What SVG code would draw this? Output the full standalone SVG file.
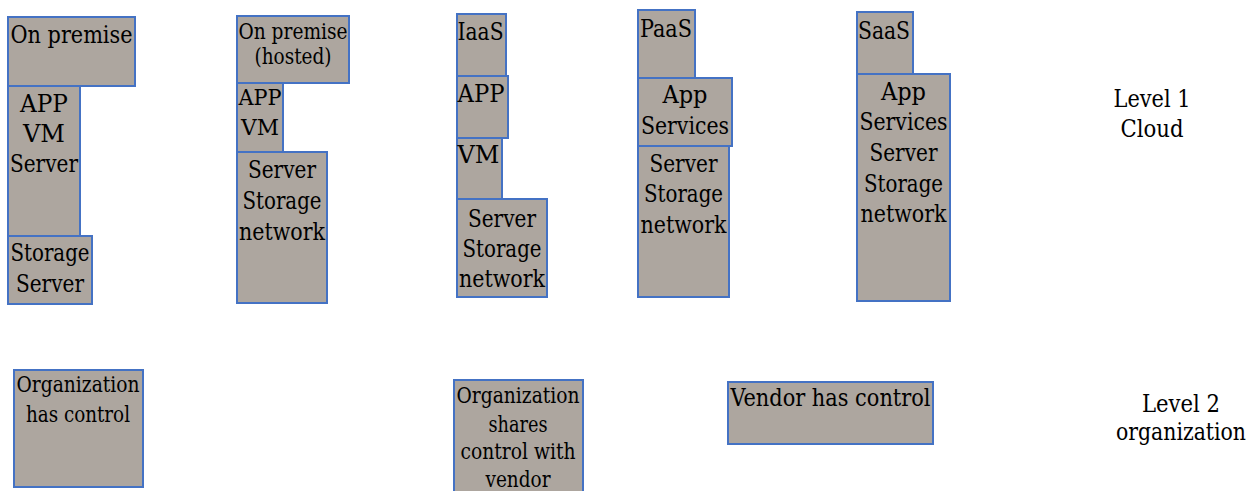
<svg xmlns="http://www.w3.org/2000/svg" width="1260" height="491" viewBox="0 0 1260 491">
  <style>
    .box { fill: #ada69f; stroke: #4472c4; stroke-width: 2; }
    text { fill: #000; font-size: 24px; font-family: "DejaVu Serif Condensed", "DejaVu Serif", serif; font-stretch: condensed; }
    .c { text-anchor: middle; }
    .s { font-size: 21.5px; }
    .lbl { font-size: 23.5px; text-anchor: middle; }
  </style>
  <rect width="1260" height="491" fill="#fff"/>

  <!-- On premise stack -->
  <g id="onprem-title">
    <rect class="box" x="8" y="17" width="127" height="69"/>
    <text class="c" x="71.5" y="43" textLength="122" lengthAdjust="spacingAndGlyphs">On premise</text>
  </g>
  <g id="onprem-app">
    <rect class="box" x="8" y="86" width="72" height="150"/>
    <text class="c" x="44" y="112" textLength="48" lengthAdjust="spacingAndGlyphs">APP</text>
    <text class="c" x="44" y="142" textLength="42" lengthAdjust="spacingAndGlyphs">VM</text>
    <text class="c" x="44" y="172" textLength="68" lengthAdjust="spacingAndGlyphs">Server</text>
  </g>
  <g id="onprem-storage">
    <rect class="box" x="8" y="236" width="84" height="68"/>
    <text class="c" x="50" y="261" textLength="79" lengthAdjust="spacingAndGlyphs">Storage</text>
    <text class="c" x="50" y="292" textLength="68" lengthAdjust="spacingAndGlyphs">Server</text>
  </g>

  <!-- On premise (hosted) stack -->
  <g id="hosted-title">
    <rect class="box" x="237" y="16" width="112" height="67"/>
    <text class="c s" x="293" y="39" textLength="109" lengthAdjust="spacingAndGlyphs">On premise</text>
    <text class="c s" x="293" y="64" textLength="77" lengthAdjust="spacingAndGlyphs">(hosted)</text>
  </g>
  <g id="hosted-app">
    <rect class="box" x="237" y="83" width="46" height="69"/>
    <text class="c s" x="260" y="105" textLength="43" lengthAdjust="spacingAndGlyphs">APP</text>
    <text class="c s" x="260" y="135" textLength="38" lengthAdjust="spacingAndGlyphs">VM</text>
  </g>
  <g id="hosted-infra">
    <rect class="box" x="237" y="152" width="90" height="151"/>
    <text class="c" x="282" y="178" textLength="68" lengthAdjust="spacingAndGlyphs">Server</text>
    <text class="c" x="282" y="209" textLength="79" lengthAdjust="spacingAndGlyphs">Storage</text>
    <text class="c" x="282" y="240" textLength="86" lengthAdjust="spacingAndGlyphs">network</text>
  </g>

  <!-- IaaS stack -->
  <g id="iaas-title">
    <rect class="box" x="457" y="14" width="49" height="62"/>
    <text x="457.5" y="40" textLength="46" lengthAdjust="spacingAndGlyphs">IaaS</text>
  </g>
  <g id="iaas-app">
    <rect class="box" x="457" y="76" width="51" height="62"/>
    <text x="457.5" y="102" textLength="47" lengthAdjust="spacingAndGlyphs">APP</text>
  </g>
  <g id="iaas-vm">
    <rect class="box" x="457" y="138" width="45" height="61"/>
    <text x="457.5" y="163" textLength="42" lengthAdjust="spacingAndGlyphs">VM</text>
  </g>
  <g id="iaas-infra">
    <rect class="box" x="457" y="199" width="90" height="98"/>
    <text class="c" x="502" y="227" textLength="68" lengthAdjust="spacingAndGlyphs">Server</text>
    <text class="c" x="502" y="257" textLength="79" lengthAdjust="spacingAndGlyphs">Storage</text>
    <text class="c" x="502" y="287" textLength="86" lengthAdjust="spacingAndGlyphs">network</text>
  </g>

  <!-- PaaS stack -->
  <g id="paas-title">
    <rect class="box" x="638" y="10" width="57" height="68"/>
    <text x="640" y="37" textLength="52" lengthAdjust="spacingAndGlyphs">PaaS</text>
  </g>
  <g id="paas-app">
    <rect class="box" x="638" y="78" width="94" height="68"/>
    <text class="c" x="685" y="103" textLength="45" lengthAdjust="spacingAndGlyphs">App</text>
    <text class="c" x="685" y="134" textLength="88" lengthAdjust="spacingAndGlyphs">Services</text>
  </g>
  <g id="paas-infra">
    <rect class="box" x="638" y="146" width="91" height="151"/>
    <text class="c" x="683.5" y="172" textLength="68" lengthAdjust="spacingAndGlyphs">Server</text>
    <text class="c" x="683.5" y="202" textLength="79" lengthAdjust="spacingAndGlyphs">Storage</text>
    <text class="c" x="683.5" y="233" textLength="86" lengthAdjust="spacingAndGlyphs">network</text>
  </g>

  <!-- SaaS stack -->
  <g id="saas-title">
    <rect class="box" x="857" y="12" width="56" height="62"/>
    <text x="858" y="39" textLength="52" lengthAdjust="spacingAndGlyphs">SaaS</text>
  </g>
  <g id="saas-all">
    <rect class="box" x="857" y="74" width="93" height="227"/>
    <text class="c" x="903.5" y="100" textLength="45" lengthAdjust="spacingAndGlyphs">App</text>
    <text class="c" x="903.5" y="130" textLength="88" lengthAdjust="spacingAndGlyphs">Services</text>
    <text class="c" x="903.5" y="161" textLength="68" lengthAdjust="spacingAndGlyphs">Server</text>
    <text class="c" x="903.5" y="192" textLength="79" lengthAdjust="spacingAndGlyphs">Storage</text>
    <text class="c" x="903.5" y="222" textLength="86" lengthAdjust="spacingAndGlyphs">network</text>
  </g>

  <!-- Row labels -->
  <g id="level1">
    <text class="lbl" x="1152" y="107" textLength="77" lengthAdjust="spacingAndGlyphs">Level 1</text>
    <text class="lbl" x="1152" y="137" textLength="63" lengthAdjust="spacingAndGlyphs">Cloud</text>
  </g>
  <g id="level2">
    <text class="lbl" x="1181" y="412" textLength="78" lengthAdjust="spacingAndGlyphs">Level 2</text>
    <text class="lbl" x="1181" y="440" textLength="130" lengthAdjust="spacingAndGlyphs">organization</text>
  </g>

  <!-- Control boxes -->
  <g id="org-control">
    <rect class="box" x="14" y="370" width="129" height="117"/>
    <text class="c s" x="78" y="392" textLength="123" lengthAdjust="spacingAndGlyphs">Organization</text>
    <text class="c s" x="78" y="422" textLength="104" lengthAdjust="spacingAndGlyphs">has control</text>
  </g>
  <g id="shared-control">
    <rect class="box" x="454" y="380" width="129" height="120"/>
    <text class="c s" x="518" y="403" textLength="123" lengthAdjust="spacingAndGlyphs">Organization</text>
    <text class="c s" x="518" y="432" textLength="59" lengthAdjust="spacingAndGlyphs">shares</text>
    <text class="c s" x="518" y="459" textLength="115" lengthAdjust="spacingAndGlyphs">control with</text>
    <text class="c s" x="518" y="487" textLength="65" lengthAdjust="spacingAndGlyphs">vendor</text>
  </g>
  <g id="vendor-control">
    <rect class="box" x="728" y="382" width="205" height="62"/>
    <text class="c" x="830.5" y="406" textLength="200" lengthAdjust="spacingAndGlyphs">Vendor has control</text>
  </g>

  <g id="connectors"/>
</svg>
